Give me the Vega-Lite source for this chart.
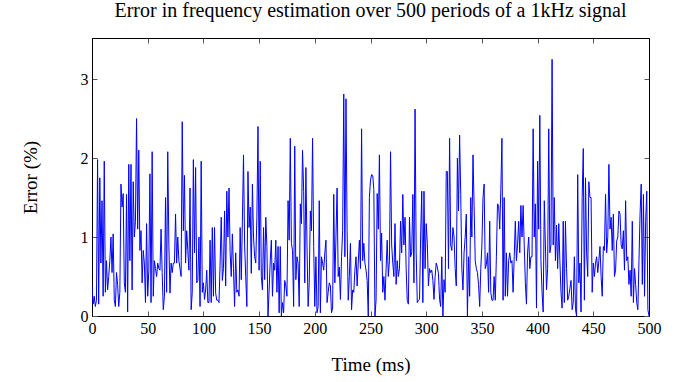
{"$schema":"https://vega.github.io/schema/vega-lite/v6.json","autosize":"none","width":557,"height":278,"padding":{"left":92,"top":38,"right":39,"bottom":66},"background":"white","config":{"font":"Liberation Serif","view":{"stroke":"black","strokeWidth":1},"axis":{"domainColor":"black","tickColor":"#555","labelColor":"black","titleColor":"black","labelFont":"Liberation Serif","titleFont":"Liberation Serif","labelFontSize":16,"titleFontSize":19,"titleFontWeight":"normal","grid":false,"tickSize":-5,"labelPadding":9}},"title":{"text":"Error in frequency estimation over 500 periods of a 1kHz signal","font":"Liberation Serif","fontSize":20,"fontWeight":"normal","color":"black","offset":17},"data":{"values":[
{"t":0,"e":0.38},{"t":1,"e":0.15},{"t":2,"e":0.25},{"t":3,"e":0.12},{"t":4,"e":0.2},{"t":5,"e":1.98},{"t":6,"e":0.15},{"t":7,"e":1.75},{"t":8,"e":0.67},{"t":9,"e":1.46},
{"t":10,"e":0.25},{"t":11,"e":1.96},{"t":12,"e":0.3},{"t":13,"e":0.7},{"t":14,"e":0.33},{"t":15,"e":0.5},{"t":16,"e":0.7},{"t":17,"e":1.0},{"t":18,"e":0.55},{"t":19,"e":1.04},
{"t":20,"e":0.2},{"t":21,"e":0.12},{"t":22,"e":0.55},{"t":23,"e":0.4},{"t":24,"e":0.12},{"t":25,"e":0.3},{"t":26,"e":1.67},{"t":27,"e":1.38},{"t":28,"e":1.55},{"t":29,"e":0.42},
{"t":30,"e":0.3},{"t":31,"e":1.54},{"t":32,"e":0.05},{"t":33,"e":1.92},{"t":34,"e":0.7},{"t":35,"e":1.92},{"t":36,"e":0.33},{"t":37,"e":1.7},{"t":38,"e":1.0},{"t":39,"e":1.2},
{"t":40,"e":2.5},{"t":41,"e":1.1},{"t":42,"e":2.1},{"t":43,"e":0.83},{"t":44,"e":1.08},{"t":45,"e":0.42},{"t":46,"e":0.83},{"t":47,"e":0.67},{"t":48,"e":0.17},{"t":49,"e":1.17},
{"t":50,"e":0.25},{"t":51,"e":0.58},{"t":52,"e":1.8},{"t":53,"e":0.17},{"t":54,"e":2.08},{"t":55,"e":0.25},{"t":56,"e":0.7},{"t":57,"e":0.6},{"t":58,"e":0.5},{"t":59,"e":0.67},
{"t":60,"e":0.6},{"t":61,"e":0.58},{"t":62,"e":1.1},{"t":63,"e":0.55},{"t":64,"e":0.08},{"t":65,"e":0.25},{"t":66,"e":1.5},{"t":67,"e":0.3},{"t":68,"e":2.08},{"t":69,"e":0.9},
{"t":70,"e":0.29},{"t":71,"e":0.67},{"t":72,"e":0.55},{"t":73,"e":0.67},{"t":74,"e":0.67},{"t":75,"e":1.29},{"t":76,"e":0.67},{"t":77,"e":1.0},{"t":78,"e":0.7},{"t":79,"e":0.6},
{"t":80,"e":0.5},{"t":81,"e":2.46},{"t":82,"e":1.08},{"t":83,"e":1.78},{"t":84,"e":0.67},{"t":85,"e":1.08},{"t":86,"e":0.83},{"t":87,"e":0.58},{"t":88,"e":1.62},{"t":89,"e":0.08},
{"t":90,"e":0.3},{"t":91,"e":1.98},{"t":92,"e":0.8},{"t":93,"e":1.88},{"t":94,"e":0.42},{"t":95,"e":0.45},{"t":96,"e":1.0},{"t":97,"e":0.12},{"t":98,"e":1.96},{"t":99,"e":0.3},
{"t":100,"e":0.42},{"t":101,"e":0.21},{"t":102,"e":0.33},{"t":103,"e":0.58},{"t":104,"e":0.17},{"t":105,"e":0.17},{"t":106,"e":0.96},{"t":107,"e":0.17},{"t":108,"e":1.12},{"t":109,"e":0.25},
{"t":110,"e":1.12},{"t":111,"e":0.29},{"t":112,"e":0.2},{"t":113,"e":0.2},{"t":114,"e":0.17},{"t":115,"e":0.67},{"t":116,"e":1.25},{"t":117,"e":0.45},{"t":118,"e":0.6},{"t":119,"e":1.33},
{"t":120,"e":0.38},{"t":121,"e":1.58},{"t":122,"e":1.0},{"t":123,"e":1.62},{"t":124,"e":0.8},{"t":125,"e":0.5},{"t":126,"e":1.04},{"t":127,"e":0.6},{"t":128,"e":0.12},{"t":129,"e":0.8},
{"t":130,"e":0.3},{"t":131,"e":0.33},{"t":132,"e":0.25},{"t":133,"e":1.12},{"t":134,"e":0.46},{"t":135,"e":1.2},{"t":136,"e":2.04},{"t":137,"e":0.9},{"t":138,"e":0.5},{"t":139,"e":0.12},
{"t":140,"e":1.83},{"t":141,"e":1.12},{"t":142,"e":1.38},{"t":143,"e":0.54},{"t":144,"e":1.67},{"t":145,"e":1.0},{"t":146,"e":0.75},{"t":147,"e":0.67},{"t":148,"e":1.25},{"t":149,"e":2.4},
{"t":150,"e":0.58},{"t":151,"e":1.96},{"t":152,"e":0.5},{"t":153,"e":0.33},{"t":154,"e":1.12},{"t":155,"e":0.46},{"t":156,"e":1.25},{"t":157,"e":0.88},{"t":158,"e":0.0},{"t":159,"e":0.33},
{"t":160,"e":0.7},{"t":161,"e":0.96},{"t":162,"e":0.25},{"t":163,"e":0.67},{"t":164,"e":0.58},{"t":165,"e":0.96},{"t":166,"e":0.3},{"t":167,"e":0.88},{"t":168,"e":0.04},{"t":169,"e":0.88},
{"t":170,"e":0.0},{"t":171,"e":0.17},{"t":172,"e":0.04},{"t":173,"e":0.45},{"t":174,"e":0.38},{"t":175,"e":0.25},{"t":176,"e":1.46},{"t":177,"e":0.96},{"t":178,"e":2.25},{"t":179,"e":0.92},
{"t":180,"e":0.83},{"t":181,"e":0.12},{"t":182,"e":2.15},{"t":183,"e":0.46},{"t":184,"e":0.75},{"t":185,"e":0.67},{"t":186,"e":0.12},{"t":187,"e":1.42},{"t":188,"e":1.17},{"t":189,"e":2.1},
{"t":190,"e":1.58},{"t":191,"e":0.42},{"t":192,"e":1.88},{"t":193,"e":0.88},{"t":194,"e":0.12},{"t":195,"e":0.42},{"t":196,"e":1.33},{"t":197,"e":1.08},{"t":198,"e":2.25},{"t":199,"e":0.88},
{"t":200,"e":0.12},{"t":201,"e":0.75},{"t":202,"e":0.04},{"t":203,"e":0.12},{"t":204,"e":1.46},{"t":205,"e":0.04},{"t":206,"e":0.75},{"t":207,"e":0.67},{"t":208,"e":0.58},{"t":209,"e":0.8},
{"t":210,"e":0.96},{"t":211,"e":0.17},{"t":212,"e":0.3},{"t":213,"e":0.42},{"t":214,"e":0.38},{"t":215,"e":0.04},{"t":216,"e":0.1},{"t":217,"e":1.54},{"t":218,"e":0.42},{"t":219,"e":1.0},
{"t":220,"e":1.62},{"t":221,"e":0.5},{"t":222,"e":0.62},{"t":223,"e":0.21},{"t":224,"e":0.75},{"t":225,"e":1.08},{"t":226,"e":2.81},{"t":227,"e":0.75},{"t":228,"e":2.75},{"t":229,"e":1.08},
{"t":230,"e":0.2},{"t":231,"e":0.5},{"t":232,"e":0.92},{"t":233,"e":0.08},{"t":234,"e":0.33},{"t":235,"e":0.3},{"t":236,"e":0.58},{"t":237,"e":0.75},{"t":238,"e":0.38},{"t":239,"e":0.67},
{"t":240,"e":0.96},{"t":241,"e":0.6},{"t":242,"e":2.37},{"t":243,"e":0.7},{"t":244,"e":0.92},{"t":245,"e":0.67},{"t":246,"e":0.58},{"t":247,"e":0.45},{"t":248,"e":0.0},{"t":249,"e":1.5},
{"t":250,"e":1.72},{"t":251,"e":1.79},{"t":252,"e":1.78},{"t":253,"e":1.6},{"t":254,"e":0.0},{"t":255,"e":0.2},{"t":256,"e":1.55},{"t":257,"e":1.1},{"t":258,"e":2.04},{"t":259,"e":0.7},
{"t":260,"e":1.05},{"t":261,"e":0.3},{"t":262,"e":0.5},{"t":263,"e":0.2},{"t":264,"e":0.6},{"t":265,"e":0.96},{"t":266,"e":0.5},{"t":267,"e":0.7},{"t":268,"e":2.08},{"t":269,"e":0.9},
{"t":270,"e":0.67},{"t":271,"e":0.5},{"t":272,"e":1.17},{"t":273,"e":0.4},{"t":274,"e":0.7},{"t":275,"e":0.5},{"t":276,"e":0.6},{"t":277,"e":1.2},{"t":278,"e":0.8},{"t":279,"e":1.54},
{"t":280,"e":0.9},{"t":281,"e":1.25},{"t":282,"e":0.6},{"t":283,"e":0.2},{"t":284,"e":0.15},{"t":285,"e":1.25},{"t":286,"e":0.75},{"t":287,"e":0.8},{"t":288,"e":1.54},{"t":289,"e":0.42},
{"t":290,"e":2.62},{"t":291,"e":0.8},{"t":292,"e":0.17},{"t":293,"e":0.2},{"t":294,"e":0.21},{"t":295,"e":1.0},{"t":296,"e":1.58},{"t":297,"e":0.17},{"t":298,"e":1.58},{"t":299,"e":0.6},
{"t":300,"e":1.17},{"t":301,"e":0.92},{"t":302,"e":0.38},{"t":303,"e":0.6},{"t":304,"e":0.55},{"t":305,"e":0.58},{"t":306,"e":0.45},{"t":307,"e":0.21},{"t":308,"e":0.5},{"t":309,"e":0.67},
{"t":310,"e":0.62},{"t":311,"e":0.54},{"t":312,"e":0.21},{"t":313,"e":0.12},{"t":314,"e":0.75},{"t":315,"e":0.0},{"t":316,"e":0.46},{"t":317,"e":0.3},{"t":318,"e":1.83},{"t":319,"e":1.83},
{"t":320,"e":0.6},{"t":321,"e":2.25},{"t":322,"e":0.9},{"t":323,"e":0.83},{"t":324,"e":1.12},{"t":325,"e":1.0},{"t":326,"e":0.6},{"t":327,"e":0.38},{"t":328,"e":2.0},{"t":329,"e":1.33},
{"t":330,"e":2.29},{"t":331,"e":1.54},{"t":332,"e":0.6},{"t":333,"e":0.33},{"t":334,"e":0.8},{"t":335,"e":1.0},{"t":336,"e":1.29},{"t":337,"e":0.0},{"t":338,"e":0.75},{"t":339,"e":0.25},
{"t":340,"e":1.5},{"t":341,"e":1.0},{"t":342,"e":2.04},{"t":343,"e":1.4},{"t":344,"e":0.7},{"t":345,"e":0.6},{"t":346,"e":0.55},{"t":347,"e":0.4},{"t":348,"e":0.12},{"t":349,"e":0.6},
{"t":350,"e":0.9},{"t":351,"e":1.5},{"t":352,"e":1.67},{"t":353,"e":0.6},{"t":354,"e":0.65},{"t":355,"e":0.8},{"t":356,"e":0.3},{"t":357,"e":1.2},{"t":358,"e":0.3},{"t":359,"e":0.2},
{"t":360,"e":0.2},{"t":361,"e":0.5},{"t":362,"e":0.2},{"t":363,"e":0.75},{"t":364,"e":1.42},{"t":365,"e":1.4},{"t":366,"e":1.1},{"t":367,"e":1.6},{"t":368,"e":2.25},{"t":369,"e":0.2},
{"t":370,"e":1.5},{"t":371,"e":0.25},{"t":372,"e":0.8},{"t":373,"e":0.25},{"t":374,"e":0.7},{"t":375,"e":0.8},{"t":376,"e":0.67},{"t":377,"e":0.7},{"t":378,"e":0.3},{"t":379,"e":0.75},
{"t":380,"e":1.2},{"t":381,"e":0.7},{"t":382,"e":0.9},{"t":383,"e":1.2},{"t":384,"e":0.8},{"t":385,"e":1.4},{"t":386,"e":1.0},{"t":387,"e":1.4},{"t":388,"e":0.9},{"t":389,"e":0.42},
{"t":390,"e":0.15},{"t":391,"e":0.8},{"t":392,"e":1.0},{"t":393,"e":0.6},{"t":394,"e":0.75},{"t":395,"e":0.75},{"t":396,"e":2.37},{"t":397,"e":1.0},{"t":398,"e":1.42},{"t":399,"e":0.1},
{"t":400,"e":1.96},{"t":401,"e":1.1},{"t":402,"e":2.54},{"t":403,"e":0.7},{"t":404,"e":0.3},{"t":405,"e":0.05},{"t":406,"e":1.46},{"t":407,"e":0.9},{"t":408,"e":0.33},{"t":409,"e":0.6},
{"t":410,"e":2.37},{"t":411,"e":0.8},{"t":412,"e":0.9},{"t":413,"e":3.25},{"t":414,"e":0.9},{"t":415,"e":1.5},{"t":416,"e":0.7},{"t":417,"e":1.15},{"t":418,"e":0.6},{"t":419,"e":1.17},
{"t":420,"e":0.7},{"t":421,"e":0.3},{"t":422,"e":0.1},{"t":423,"e":1.2},{"t":424,"e":0.17},{"t":425,"e":1.2},{"t":426,"e":0.6},{"t":427,"e":0.2},{"t":428,"e":0.25},{"t":429,"e":0.35},
{"t":430,"e":0.45},{"t":431,"e":0.08},{"t":432,"e":0.17},{"t":433,"e":0.75},{"t":434,"e":0.08},{"t":435,"e":0.0},{"t":436,"e":1.79},{"t":437,"e":0.42},{"t":438,"e":0.67},{"t":439,"e":0.05},
{"t":440,"e":1.5},{"t":441,"e":2.12},{"t":442,"e":0.2},{"t":443,"e":1.75},{"t":444,"e":0.8},{"t":445,"e":0.5},{"t":446,"e":1.7},{"t":447,"e":1.5},{"t":448,"e":1.5},{"t":449,"e":0.3},
{"t":450,"e":0.67},{"t":451,"e":0.5},{"t":452,"e":0.67},{"t":453,"e":0.75},{"t":454,"e":0.55},{"t":455,"e":0.7},{"t":456,"e":0.88},{"t":457,"e":0.5},{"t":458,"e":0.25},{"t":459,"e":0.88},
{"t":460,"e":0.83},{"t":461,"e":1.54},{"t":462,"e":0.8},{"t":463,"e":1.0},{"t":464,"e":1.92},{"t":465,"e":1.1},{"t":466,"e":1.25},{"t":467,"e":0.83},{"t":468,"e":1.29},{"t":469,"e":0.5},
{"t":470,"e":0.58},{"t":471,"e":0.95},{"t":472,"e":1.0},{"t":473,"e":1.33},{"t":474,"e":1.29},{"t":475,"e":0.9},{"t":476,"e":0.85},{"t":477,"e":1.08},{"t":478,"e":0.58},{"t":479,"e":1.46},
{"t":480,"e":0.7},{"t":481,"e":0.75},{"t":482,"e":0.4},{"t":483,"e":0.58},{"t":484,"e":0.25},{"t":485,"e":1.2},{"t":486,"e":0.17},{"t":487,"e":0.6},{"t":488,"e":0.4},{"t":489,"e":0.17},
{"t":490,"e":0.08},{"t":491,"e":0.7},{"t":492,"e":1.3},{"t":493,"e":1.67},{"t":494,"e":0.4},{"t":495,"e":1.54},{"t":496,"e":0.25},{"t":497,"e":1.2},{"t":498,"e":1.58},{"t":499,"e":0.08},
{"t":500,"e":0.0}
]},
"layer":[
{"mark":{"type":"line","color":"#0000ff","strokeWidth":1,"clip":true},
"encoding":{"x":{"field":"t","type":"quantitative","scale":{"domain":[0,500],"nice":false,"zero":false},"axis":{"orient":"bottom","title":"Time (ms)","values":[0,50,100,150,200,250,300,350,400,450,500],"titlePadding":19,"labelFlush":false}},
"y":{"field":"e","type":"quantitative","scale":{"domain":[0,3.52],"nice":false},"axis":{"orient":"left","title":"Error (%)","values":[0,1,2,3],"titlePadding":40,"labelFlush":false}}}},
{"mark":{"type":"line","opacity":0},
"encoding":{"x":{"field":"t","type":"quantitative","scale":{"domain":[0,500],"nice":false,"zero":false},"axis":{"orient":"top","title":null,"labels":false,"values":[0,50,100,150,200,250,300,350,400,450,500]}},
"y":{"field":"e","type":"quantitative","scale":{"domain":[0,3.52],"nice":false},"axis":{"orient":"right","title":null,"labels":false,"values":[0,1,2,3]}}}}
],
"resolve":{"axis":{"x":"independent","y":"independent"}}
}
